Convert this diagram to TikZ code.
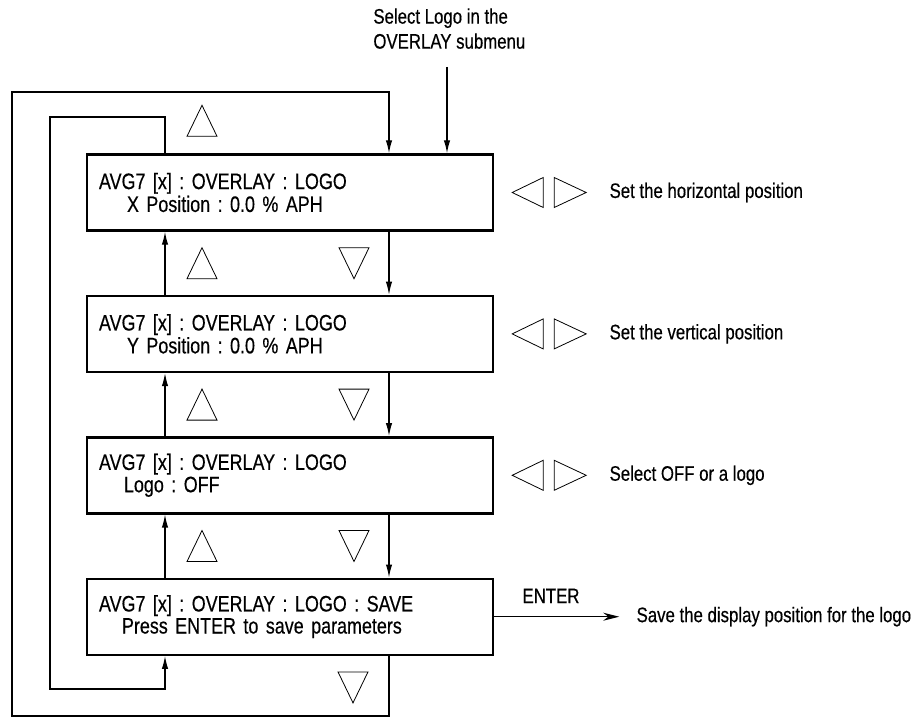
\documentclass[tikz,border=0pt]{standalone}
\usepackage{fontspec}
\setmainfont{Liberation Sans}[FakeStretch=0.8,FakeBold=0.4]
\usetikzlibrary{arrows.meta,positioning,calc}
\frenchspacing

\begin{document}
\begin{tikzpicture}[
  x=0.5pt,y=-0.5pt,
  menu/.style={draw,line width=1.2pt,rectangle,minimum width=203pt,minimum height=38pt,
               inner xsep=6pt,text width=191pt,align=left,
               font=\fontsize{11.2}{10}\selectfont},
  note/.style={inner sep=0pt,align=left,font=\fontsize{10.5}{12.5}\selectfont},
  link/.style={line width=0.6pt,>={Latex[length=6.5pt,width=3.2pt]}},
  key/.style={line width=0.4pt},
  keyup/.pic={\draw[key] (-15,15.5) -- (15,15.5) -- (0,-15.5) -- cycle;},
  keydown/.pic={\draw[key] (-15,-15.5) -- (15,-15.5) -- (0,15.5) -- cycle;},
  keyleft/.pic={\draw[key] (15.5,-15) -- (15.5,15) -- (-15.5,0) -- cycle;},
  keyright/.pic={\draw[key] (-16,-15) -- (-16,15) -- (16,0) -- cycle;}
]
  \useasboundingbox (0,0) rectangle (916,717);

  %% ---- menu screens (one column) ----
  \node[menu] (xpos) at (290,192.5) {
    AVG7 [x] : OVERLAY : LOGO\\
    \hspace*{14pt}X Position : 0.0 \% APH
  };
  \node[menu,below=31.5pt of xpos] (ypos) {
    AVG7 [x] : OVERLAY : LOGO\\
    \hspace*{14pt}Y Position : 0.0 \% APH
  };
  \node[menu,below=31.5pt of ypos] (logo) {
    AVG7 [x] : OVERLAY : LOGO\\
    \hspace*{12.5pt}Logo : OFF
  };
  \node[menu,below=31.5pt of logo] (save) {
    AVG7 [x] : OVERLAY : LOGO : SAVE\\
    \hspace*{11.5pt}Press ENTER to save parameters
  };

  %% ---- notes on the right ----
  \node[note,right=57.5pt of xpos] (hnote) {Set the horizontal position};
  \node[note,right=57.5pt of ypos] (vnote) {Set the vertical position};
  \node[note,right=57.5pt of logo] (lnote) {Select OFF or a logo};
  \node[note,right=71pt of save] (savenote) {Save the display position for the logo};

  %% ---- entry from the submenu ----
  \node[note,anchor=north west] (entry) at (373,8) {Select Logo in the\\OVERLAY submenu};
  \coordinate (instart) at (447,67);
  \draw[link,->] (instart) -- (instart |- xpos.north);

  %% ---- arrow keys ----
  \pic at ($(xpos.north)+(-88,-32.5)$) {keyup};
  \foreach \a/\b in {xpos/ypos,ypos/logo,logo/save}{
    \pic at ($(\a.south)!.5!(\b.north)+(-88,0)$) {keyup};
    \pic at ($(\a.south)!.5!(\b.north)+(64,0)$) {keydown};
  }
  \pic at ($(save.south)+(63,31.5)$) {keydown};
  \foreach \n in {xpos,ypos,logo}{
    \pic at ($(\n.east)+(33.5,0)$) {keyleft};
    \pic at ($(\n.east)+(76,0)$) {keyright};
  }

  %% ---- links between screens ----
  \coordinate (dnx) at (389,0);
  \coordinate (upx) at (165,0);
  \foreach \a/\b in {xpos/ypos,ypos/logo,logo/save}{
    \draw[link,->] (\a.south -| dnx) -- (\b.north -| dnx);
    \draw[link,->] (\b.north -| upx) -- (\a.south -| upx);
  }

  % wrap around: last screen back to the first, and back again
  \coordinate (outbl) at (12,716);
  \coordinate (outtr) at (389,92);
  \draw[link,->] (save.south -| dnx) |- (outbl) |- (outtr) -- (xpos.north -| dnx);
  \coordinate (intl) at (50,117);
  \coordinate (inbr) at (165,689);
  \draw[link,->] (xpos.north -| upx) |- (intl) |- (inbr) -- (save.south -| upx);

  % ENTER
  \draw[link,-{Stealth[length=8pt,width=4pt]},shorten >=8.5pt] (save) --
    node[note,above=6.5pt,pos=0.4]{ENTER} (savenote);
\end{tikzpicture}
\end{document}
